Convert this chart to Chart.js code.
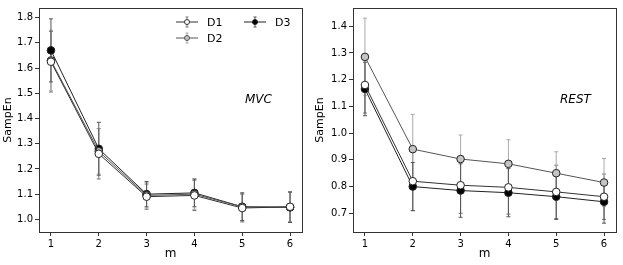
<!DOCTYPE html>
<html>
<head>
<meta charset="utf-8">
<script src="https://cdn.jsdelivr.net/npm/chart.js@4"></script>
<style>
  body { margin: 0; background: #fff; }
  #wrap { position: relative; width: 623px; height: 265px; }
  .box { position: absolute; top: 0; height: 265px; }
</style>
</head>
<body>
<div id="wrap">
  <div class="box" style="left:0;width:312px"><canvas id="mvc"></canvas></div>
  <div class="box" style="left:312px;width:311px"><canvas id="rest"></canvas></div>
</div>
<script>
const mValues = [1, 2, 3, 4, 5, 6];
const seriesNames = ['D1', 'D2', 'D3'];

// MVC panel
const mvcD1 = [1.625, 1.26, 1.09, 1.095, 1.045, 1.05];
const mvcD2 = [1.63, 1.27, 1.095, 1.10, 1.05, 1.048];
const mvcD3 = [1.67, 1.28, 1.10, 1.105, 1.05, 1.048];
const mvcD1Err = [0.12, 0.10, 0.05, 0.06, 0.055, 0.06];
const mvcD2Err = [0.12, 0.09, 0.05, 0.06, 0.055, 0.06];
const mvcD3Err = [0.125, 0.105, 0.05, 0.055, 0.055, 0.06];
const mvcTicks = [1.0, 1.1, 1.2, 1.3, 1.4, 1.5, 1.6, 1.7, 1.8];

// REST panel
const restD1 = [1.18, 0.82, 0.805, 0.797, 0.78, 0.762];
const restD2 = [1.285, 0.94, 0.903, 0.885, 0.85, 0.815];
const restD3 = [1.165, 0.80, 0.785, 0.777, 0.762, 0.743];
const restD1Err = [0.105, 0.11, 0.105, 0.10, 0.10, 0.085];
const restD2Err = [0.145, 0.13, 0.09, 0.09, 0.08, 0.09];
const restD3Err = [0.10, 0.09, 0.10, 0.09, 0.085, 0.08];
const restTicks = [0.7, 0.8, 0.9, 1.0, 1.1, 1.2, 1.3, 1.4];

const FONT = 'DejaVu Sans';
const fills = ['#ffffff', '#c4c4c4', '#000000'];
const lineColors = ['#333333', '#555555', '#222222'];
const errColors = ['#777777', '#aaaaaa', '#555555'];

// error bars drawn through the chart scales
const errorBars = {
  id: 'errorBars',
  beforeDatasetsDraw(chart) {
    const ctx = chart.ctx;
    const x = chart.scales.x, y = chart.scales.y;
    chart.data.datasets.forEach((ds, i) => {
      ctx.save();
      ctx.strokeStyle = errColors[i];
      ctx.lineWidth = 1;
      ds.data.forEach((v, j) => {
        const e = ds.errors[j];
        const px = x.getPixelForValue(mValues[j]);
        const top = y.getPixelForValue(v + e);
        const bot = y.getPixelForValue(v - e);
        ctx.beginPath();
        ctx.moveTo(px, top); ctx.lineTo(px, bot);
        ctx.moveTo(px - 2, top); ctx.lineTo(px + 2, top);
        ctx.moveTo(px - 2, bot); ctx.lineTo(px + 2, bot);
        ctx.stroke();
      });
      ctx.restore();
    });
  }
};

// frame round the plot area plus panel text
const frame = {
  id: 'frame',
  afterDraw(chart, args, opts) {
    const ctx = chart.ctx;
    const a = chart.chartArea;
    ctx.save();
    ctx.strokeStyle = '#333333';
    ctx.lineWidth = 1;
    ctx.strokeRect(Math.round(a.left) + 0.5, Math.round(a.top) + 0.5,
      Math.round(a.right - a.left), Math.round(a.bottom - a.top));
    ctx.fillStyle = '#000';
    ctx.font = 'italic 12px ' + FONT;
    ctx.textAlign = 'left';
    ctx.textBaseline = 'middle';
    ctx.fillText(opts.label, opts.labelX, opts.labelY);

    if (opts.legend) {
      const items = [
        { i: 0, x: 176, y: 22 },
        { i: 2, x: 244, y: 22 },
        { i: 1, x: 176, y: 38 }
      ];
      ctx.font = '11px ' + FONT;
      items.forEach(it => {
        const cx = it.x + 11;
        ctx.strokeStyle = errColors[it.i];
        ctx.beginPath();
        ctx.moveTo(cx, it.y - 5); ctx.lineTo(cx, it.y + 5);
        ctx.moveTo(cx - 1.5, it.y - 5); ctx.lineTo(cx + 1.5, it.y - 5);
        ctx.moveTo(cx - 1.5, it.y + 5); ctx.lineTo(cx + 1.5, it.y + 5);
        ctx.stroke();
        ctx.strokeStyle = lineColors[it.i];
        ctx.beginPath();
        ctx.moveTo(it.x, it.y); ctx.lineTo(it.x + 22, it.y);
        ctx.stroke();
        ctx.fillStyle = fills[it.i];
        ctx.beginPath();
        ctx.arc(cx, it.y, 2.5, 0, Math.PI * 2);
        ctx.fill();
        ctx.stroke();
        ctx.fillStyle = '#000';
        ctx.fillText(seriesNames[it.i], it.x + 31, it.y + 1);
      });
    }
    ctx.restore();
  }
};

function makeDatasets(vals, errs) {
  return vals.map((v, i) => ({
    label: seriesNames[i],
    data: v,
    errors: errs[i],
    borderColor: lineColors[i],
    borderWidth: 1,
    pointRadius: 3.8,
    pointBorderWidth: 1,
    pointBorderColor: '#222',
    pointBackgroundColor: fills[i],
    tension: 0
  }));
}

function makeChart(id, datasets, ticks, yMin, yMax, yWidth, pad, frameOpts) {
  new Chart(document.getElementById(id), {
    type: 'line',
    data: { labels: mValues, datasets: datasets },
    plugins: [errorBars, frame],
    options: {
      responsive: true,
      maintainAspectRatio: false,
      animation: false,
      layout: { padding: pad },
      plugins: {
        legend: { display: false },
        tooltip: { enabled: false },
        frame: frameOpts
      },
      scales: {
        x: {
          type: 'linear',
          min: 0.75,
          max: 6.25,
          afterBuildTicks: s => { s.ticks = mValues.map(v => ({ value: v })); },
          afterFit: s => { s.height = 33; },
          grid: { display: true, drawOnChartArea: false, tickLength: 4, color: '#333' },
          border: { display: false },
          ticks: { color: '#000', padding: 2, font: { family: FONT, size: 10 } },
          title: { display: true, text: 'm', color: '#000', padding: { top: 0, bottom: 4 }, font: { family: FONT, size: 12 } }
        },
        y: {
          min: yMin,
          max: yMax,
          afterBuildTicks: s => { s.ticks = ticks.map(v => ({ value: v })); },
          afterFit: s => { s.width = yWidth; },
          grid: { display: true, drawOnChartArea: false, tickLength: 4, color: '#333' },
          border: { display: false },
          ticks: { color: '#000', padding: 2, font: { family: FONT, size: 10 }, callback: v => v.toFixed(1) },
          title: { display: true, text: 'SampEn', color: '#000', padding: 2, font: { family: FONT, size: 11 } }
        }
      }
    }
  });
}

makeChart('mvc',
  makeDatasets([mvcD1, mvcD2, mvcD3], [mvcD1Err, mvcD2Err, mvcD3Err]),
  mvcTicks, 0.95, 1.838, 39, { top: 7, right: 10, left: 0, bottom: 0 },
  { label: 'MVC', labelX: 245, labelY: 100, legend: true });

makeChart('rest',
  makeDatasets([restD1, restD2, restD3], [restD1Err, restD2Err, restD3Err]),
  restTicks, 0.63, 1.468, 41, { top: 7, right: 7, left: 0, bottom: 0 },
  { label: 'REST', labelX: 248, labelY: 100, legend: false });
</script>
</body>
</html>
